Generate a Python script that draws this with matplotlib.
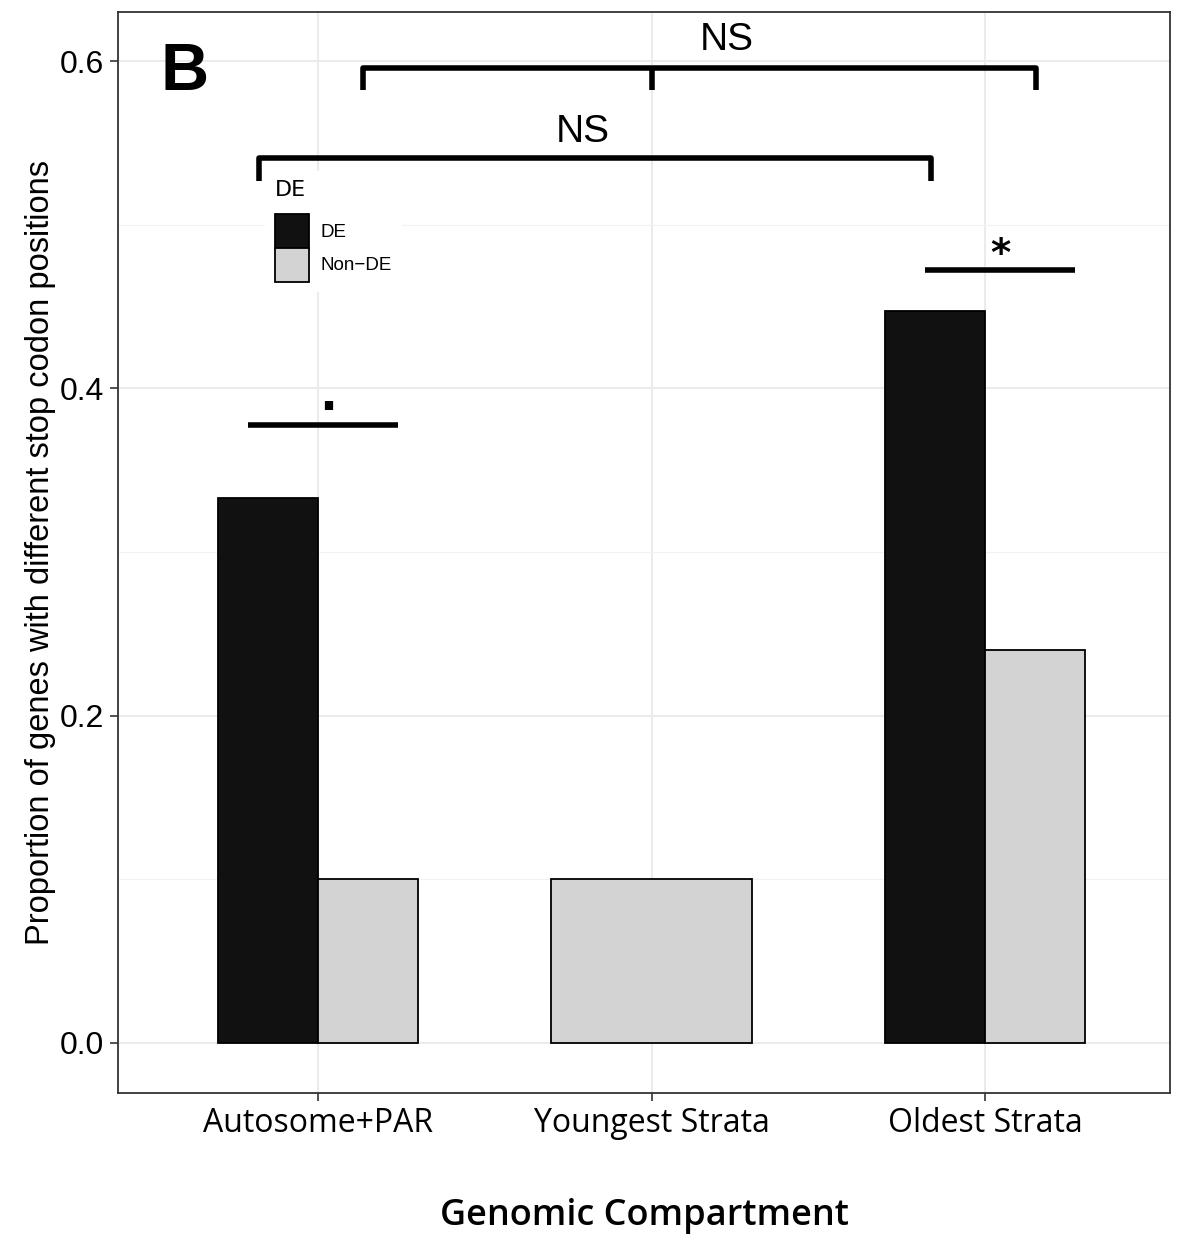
import numpy as np
import matplotlib.pyplot as plt
from matplotlib.patches import Patch

categories = ['Autosome+PAR', 'Youngest Strata', 'Oldest Strata']
de_vals = [0.333, np.nan, 0.447]
nonde_vals = [0.1, 0.1, 0.24]
yticks = [0.0, 0.2, 0.4, 0.6]

fig = plt.figure(figsize=(11.97, 12.4), dpi=100)
ax = fig.add_axes([118/1197, 1 - 1093/1240, 1052/1197, 1081/1240])

x = np.arange(1, len(categories) + 1)
w = 0.3
for xi, d, n in zip(x, de_vals, nonde_vals):
    if np.isnan(d):
        ax.bar(xi, n, width=2*w, color='#D3D3D3', edgecolor='black', linewidth=1.3, zorder=3)
    else:
        ax.bar(xi - w/2, d, width=w, color='#111111', edgecolor='black', linewidth=1.3, zorder=3)
        ax.bar(xi + w/2, n, width=w, color='#D3D3D3', edgecolor='black', linewidth=1.3, zorder=3)

ax.set_xlim(0.4, 3.555)
ax.set_ylim(-0.0306, 0.630)
ax.set_xticks(x)
ax.set_xticklabels(categories, fontsize=23, family='Open Sans')
ax.set_yticks(yticks)
ax.set_yticklabels(['%.1f' % t for t in yticks], fontsize=23, family='Liberation Sans')
ax.set_yticks([0.1, 0.3, 0.5], minor=True)
ax.tick_params(axis='y', which='minor', length=0)
ax.tick_params(axis='both', which='major', length=6, color='#333333', width=1.2, pad=4)
ax.grid(True, which='major', color='#EBEBEB', linewidth=1.5, zorder=0)
ax.grid(True, which='minor', axis='y', color='#F2F2F2', linewidth=0.9, zorder=0)
for s in ax.spines.values():
    s.set_color('#333333')
    s.set_linewidth(1.3)

ax.set_ylabel('Proportion of genes with different stop codon positions', fontsize=23.5,
              family='Liberation Sans', labelpad=3)
ax.set_xlabel('Genomic Compartment', fontsize=26, family='Open Sans', fontweight='semibold',
              labelpad=42)

# significance annotations
lw = 4
ax.plot([1.135, 1.135, 3.153, 3.153], [0.5824, 0.5958, 0.5958, 0.5824], color='black', lw=lw,
        solid_capstyle='butt', zorder=4)
ax.plot([2.0015, 2.0015], [0.5958, 0.5824], color='black', lw=lw, solid_capstyle='butt', zorder=4)
ax.text(2.226, 0.613, 'NS', ha='center', va='center', fontsize=28, family='Liberation Sans')

ax.plot([0.823, 0.823, 2.838, 2.838], [0.5267, 0.5408, 0.5408, 0.5267], color='black', lw=lw,
        solid_capstyle='butt', zorder=4)
ax.text(1.795, 0.5567, 'NS', ha='center', va='center', fontsize=28, family='Liberation Sans')

ax.plot([2.82, 3.27], [0.4724, 0.4724], color='black', lw=lw, solid_capstyle='butt', zorder=4)
ax.text(3.045, 0.4815, '*', ha='center', va='center', fontsize=28, fontweight='bold')

ax.plot([0.79, 1.24], [0.3776, 0.3776], color='black', lw=lw, solid_capstyle='butt', zorder=4)
ax.text(1.03, 0.3945, '.', ha='center', va='center', fontsize=34, fontweight='bold')

ax.text(0.601, 0.593, 'B', ha='center', va='center', fontsize=48, fontweight='bold',
        family='Liberation Sans')

handles = [Patch(facecolor='#111111', edgecolor='black', linewidth=1.3, label='DE'),
           Patch(facecolor='#D3D3D3', edgecolor='black', linewidth=1.3, label='Non\u2212DE')]
leg = ax.legend(handles=handles, title='DE', loc='upper left', bbox_to_anchor=(0.131, 0.862),
                frameon=True, fancybox=False, edgecolor='white', framealpha=1,
                prop={'family': 'Liberation Sans', 'size': 13.5}, title_fontsize=16,
                handlelength=1.85, handleheight=2.4, handletextpad=0.6, labelspacing=0.0,
                borderpad=0.5)
leg._legend_box.align = 'left'
leg._legend_box.sep = 10
leg.set_zorder(5)

fig.savefig('out.png', dpi=100)
